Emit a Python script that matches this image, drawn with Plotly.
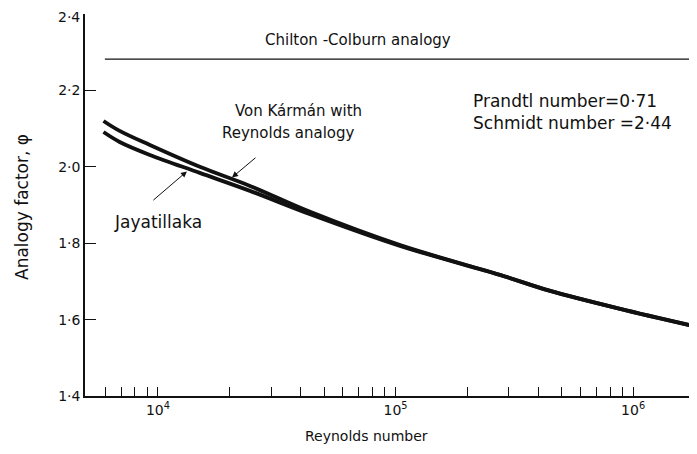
import math
import plotly.graph_objects as go

# ---- data ----
re_upper = [5900, 6900, 9250, 15000, 24400, 43700, 104500, 275000, 448000, 882000, 1860000]
phi_upper = [2.120, 2.094, 2.057, 2.000, 1.950, 1.882, 1.795, 1.717, 1.675, 1.628, 1.581]
re_lower = [5900, 6900, 9250, 15000, 24400, 43700, 104500, 275000, 448000, 882000, 1860000]
phi_lower = [2.091, 2.065, 2.031, 1.984, 1.937, 1.876, 1.793, 1.717, 1.675, 1.628, 1.581]
re_chilton = [5980, 1860000]
phi_chilton = [2.282, 2.282]

x_tick_vals = [6000, 7000, 8000, 9000, 10000, 20000, 30000, 40000, 50000, 60000, 70000, 80000, 90000,
               100000, 200000, 300000, 400000, 500000, 600000, 700000, 800000, 900000, 1000000]
x_tick_text = ["", "", "", "", "10<sup>4</sup>", "", "", "", "", "", "", "", "",
               "10<sup>5</sup>", "", "", "", "", "", "", "", "", "10<sup>6</sup>"]
y_tick_vals = [1.4, 1.6, 1.8, 2.0, 2.2, 2.4]
y_tick_text = ["1·4", "1·6", "1·8", "2·0", "2·2", "2·4"]

FONT = "DejaVu Sans"
INK = "#111111"

fig = go.Figure()
fig.add_trace(go.Scatter(x=re_chilton, y=phi_chilton, mode="lines",
                         line=dict(color=INK, width=1.3), showlegend=False, hoverinfo="skip"))
fig.add_trace(go.Scatter(x=re_upper, y=phi_upper, mode="lines", line_shape="spline",
                         line=dict(color=INK, width=3.8), showlegend=False, hoverinfo="skip"))
fig.add_trace(go.Scatter(x=re_lower, y=phi_lower, mode="lines", line_shape="spline",
                         line=dict(color=INK, width=3.8), showlegend=False, hoverinfo="skip"))

# page has an 8px body margin: figure is placed at (8, 8)
OFF = 8
W, H = 697 - OFF, 454 - OFF
L, R, T = 85 - OFF, 0, 14 - OFF
B = H - (396 - OFF)
pw, ph = W - L - R, H - T - B


def px(x):  # page pixel -> paper
    return (x - OFF - L) / pw


def py(y):
    return (H - B - (y - OFF)) / ph


def f(size):
    return dict(family=FONT, size=size, color=INK)


# top tick label would be clipped at the figure edge: draw it as an annotation nudged down
axis_ticktext = [t if v != y_tick_vals[-1] else "" for v, t in zip(y_tick_vals, y_tick_text)]

ann = []
ann.append(dict(text=y_tick_text[-1], x=px(81), y=py(8.5), xref="paper", yref="paper",
                showarrow=False, font=f(14), xanchor="right", yanchor="top", borderpad=0))
ann.append(dict(text="Chilton -Colburn analogy", x=px(358), y=py(40), xref="paper", yref="paper",
                showarrow=False, font=f(15), xanchor="center", yanchor="middle"))
ann.append(dict(text="Von Kármán with", x=px(233), y=py(111), xref="paper", yref="paper",
                showarrow=False, font=f(15), xanchor="left", yanchor="middle"))
ann.append(dict(text="Reynolds analogy", x=px(220), y=py(133), xref="paper", yref="paper",
                showarrow=False, font=f(15), xanchor="left", yanchor="middle"))
ann.append(dict(text="Prandtl number=0·71", x=px(471), y=py(101), xref="paper", yref="paper",
                showarrow=False, font=f(17), xanchor="left", yanchor="middle"))
ann.append(dict(text="Schmidt number =2·44", x=px(471), y=py(123), xref="paper", yref="paper",
                showarrow=False, font=f(17), xanchor="left", yanchor="middle"))
ann.append(dict(text="Jayatillaka", x=px(112), y=py(222), xref="paper", yref="paper",
                showarrow=False, font=f(17), xanchor="left", yanchor="middle"))
ann.append(dict(text="Analogy factor, φ", x=px(22), y=py(207), xref="paper", yref="paper",
                showarrow=False, font=f(17), textangle=-90,
                xanchor="center", yanchor="middle"))
ann.append(dict(text="Reynolds number", x=px(366), y=py(436), xref="paper", yref="paper",
                showarrow=False, font=f(14), xanchor="center", yanchor="middle"))
# arrows (heads on curves, in data coordinates; log axis uses log10 for x)
ann.append(dict(text="", x=math.log10(20500), y=1.972, xref="x", yref="y", showarrow=True,
                arrowhead=2, arrowsize=1.2, arrowwidth=1, arrowcolor=INK, ax=25, ay=-21))
ann.append(dict(text="", x=math.log10(13240), y=1.988, xref="x", yref="y", showarrow=True,
                arrowhead=2, arrowsize=1.2, arrowwidth=1, arrowcolor=INK, ax=-35, ay=30))

fig.update_layout(
    width=W, height=H,
    margin=dict(l=L, r=R, t=T, b=B, pad=0, autoexpand=False),
    paper_bgcolor="white", plot_bgcolor="white",
    font=dict(family=FONT, size=14, color=INK),
    annotations=ann,
    showlegend=False,
)
fig.update_xaxes(type="log", range=[3.693, 6.269], tickmode="array", tickvals=x_tick_vals,
                 ticktext=x_tick_text, ticks="inside", ticklen=9, tickwidth=1.3, tickcolor=INK,
                 showline=True, linecolor=INK, linewidth=1.5, showgrid=False, zeroline=False,
                 automargin=False, ticklabeloverflow="allow", tickfont=f(14))
fig.update_yaxes(range=[1.4, 2.4], tickmode="array", tickvals=y_tick_vals, ticktext=axis_ticktext,
                 ticks="inside", ticklen=11, tickwidth=1.3, tickcolor=INK,
                 showline=True, linecolor=INK, linewidth=1.5, showgrid=False, zeroline=False,
                 automargin=False, ticklabeloverflow="allow", tickfont=f(14))

fig.write_html("out.html")
